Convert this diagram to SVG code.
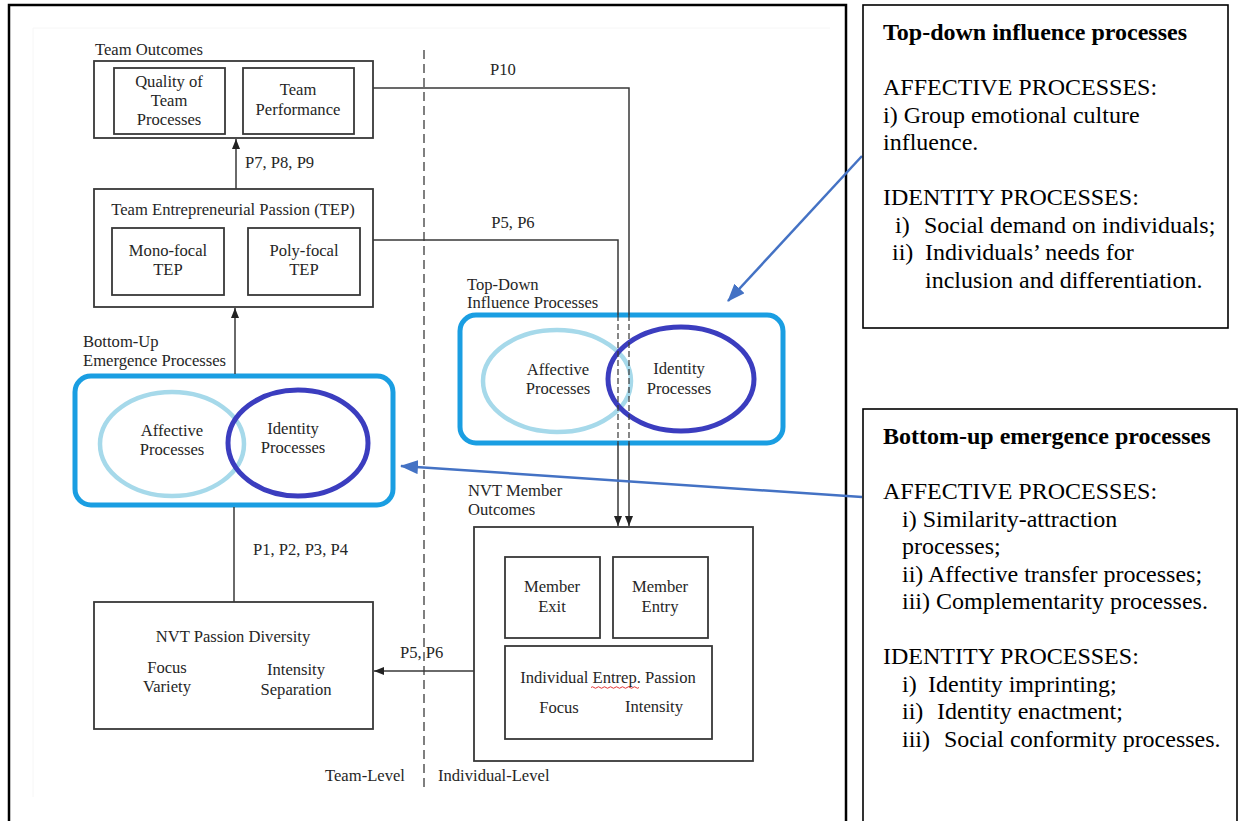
<svg xmlns="http://www.w3.org/2000/svg" width="1240" height="821" viewBox="0 0 1240 821">
<defs>
<style>
.t{font-family:"Liberation Serif","Times New Roman",serif;font-size:16.6px;fill:#262626}
.c{text-anchor:middle}
.r{font-family:"Liberation Serif","Times New Roman",serif;font-size:24px;fill:#000}
.b{font-weight:bold}
.box{fill:#fff;stroke:#383838;stroke-width:1.8}
.ln{fill:none;stroke:#383838;stroke-width:1.5}
.dl{fill:none;stroke:#383838;stroke-width:1.2;stroke-dasharray:6 3}
.grp{fill:none;stroke:#1a9ee2;stroke-width:5}
.aff{fill:none;stroke:#a6d9ea;stroke-width:4.5}
.idn{fill:none;stroke:#3b3dbf;stroke-width:5}
.blue{fill:none;stroke:#4472c4;stroke-width:2.5}
.frame{fill:none;stroke:#000;stroke-width:1.6}
</style>
<marker id="ah" markerUnits="userSpaceOnUse" markerWidth="10" markerHeight="8" refX="10" refY="4" orient="auto"><path d="M0,0 L10,4 L0,8 z" fill="#222"/></marker>
<marker id="bh" markerUnits="userSpaceOnUse" markerWidth="18" markerHeight="14" refX="17" refY="7" orient="auto"><path d="M0,0 L18,7 L0,14 z" fill="#4472c4"/></marker>
</defs>
<rect width="1240" height="821" fill="#fff"/>
<rect x="9" y="5" width="837" height="840" fill="none" stroke="#000" stroke-width="2.5"/>
<path d="M33,797 L33,28 L830,28" fill="none" stroke="#f6f6f6" stroke-width="1"/>
<line x1="424" y1="50" x2="424" y2="790" stroke="#555" stroke-width="1.5" stroke-dasharray="9 5"/>

<g id="team-outcomes">
<text class="t" x="95" y="55">Team Outcomes</text>
<rect class="box" x="94" y="61" width="279" height="77"/>
<rect class="box" x="114" y="68" width="111" height="66"/>
<text class="t c" x="169" y="87">Quality of</text>
<text class="t c" x="169" y="106">Team</text>
<text class="t c" x="169" y="125">Processes</text>
<rect class="box" x="243" y="68" width="111" height="66"/>
<text class="t c" x="298" y="95">Team</text>
<text class="t c" x="298" y="115">Performance</text>
</g>

<g id="tep">
<rect class="box" x="94" y="189" width="279" height="118"/>
<text class="t c" x="233" y="215">Team Entrepreneurial Passion (TEP)</text>
<rect class="box" x="112" y="228" width="112" height="67"/>
<text class="t c" x="168" y="256">Mono-focal</text>
<text class="t c" x="168" y="275">TEP</text>
<rect class="box" x="248" y="228" width="112" height="67"/>
<text class="t c" x="304" y="256">Poly-focal</text>
<text class="t c" x="304" y="275">TEP</text>
</g>

<g id="bottom-up">
<text class="t" x="83" y="347">Bottom-Up</text>
<text class="t" x="83" y="366">Emergence Processes</text>
<rect class="grp" x="75" y="376" width="318" height="129" rx="16"/>
<ellipse class="aff" cx="172" cy="444" rx="72" ry="52"/>
<ellipse class="idn" cx="298" cy="443" rx="70" ry="53"/>
<text class="t c" x="172" y="436">Affective</text>
<text class="t c" x="172" y="455">Processes</text>
<text class="t c" x="293" y="434">Identity</text>
<text class="t c" x="293" y="453">Processes</text>
</g>

<g id="passion-diversity">
<rect class="box" x="94" y="602" width="279" height="127"/>
<text class="t c" x="233" y="642">NVT Passion Diversity</text>
<text class="t c" x="167" y="673">Focus</text>
<text class="t c" x="167" y="692">Variety</text>
<text class="t c" x="296" y="675">Intensity</text>
<text class="t c" x="296" y="695">Separation</text>
</g>

<g id="top-down">
<text class="t" x="467" y="290">Top-Down</text>
<text class="t" x="467" y="308">Influence Processes</text>
<rect class="grp" x="460" y="315" width="323" height="128" rx="16"/>
<ellipse class="aff" cx="557" cy="381" rx="74" ry="51"/>
<ellipse class="idn" cx="681" cy="379" rx="73" ry="52"/>
<text class="t c" x="558" y="375">Affective</text>
<text class="t c" x="558" y="394">Processes</text>
<text class="t c" x="679" y="374">Identity</text>
<text class="t c" x="679" y="394">Processes</text>
</g>

<g id="member-outcomes">
<text class="t" x="468" y="496">NVT Member</text>
<text class="t" x="468" y="515">Outcomes</text>
<rect class="box" x="474" y="527" width="279" height="234"/>
<rect class="box" x="505" y="557" width="95" height="81"/>
<text class="t c" x="552" y="592">Member</text>
<text class="t c" x="552" y="612">Exit</text>
<rect class="box" x="613" y="557" width="95" height="81"/>
<text class="t c" x="660" y="592">Member</text>
<text class="t c" x="660" y="612">Entry</text>
<rect class="box" x="505" y="646" width="207" height="93"/>
<text class="t c" x="608" y="683">Individual Entrep. Passion</text>
<path d="M591,687.5 q1.5,-1.5 3,0 t3,0 t3,0 t3,0 t3,0 t3,0 t3,0 t3,0 t3,0 t3,0 t3,0 t3,0 t3,0 t3,0 t3,0 t3,0" fill="none" stroke="#e02020" stroke-width="0.9"/>
<text class="t c" x="559" y="713">Focus</text>
<text class="t c" x="654" y="712">Intensity</text>
</g>

<g id="levels">
<text class="t c" x="365" y="781">Team-Level</text>
<text class="t" x="438" y="781">Individual-Level</text>
</g>

<g id="connectors">
<line class="ln" x1="236" y1="189" x2="236" y2="139" marker-end="url(#ah)"/>
<text class="t" x="245" y="168">P7, P8, P9</text>
<line class="ln" x1="235" y1="374" x2="235" y2="308" marker-end="url(#ah)"/>
<line class="ln" x1="234" y1="507" x2="234" y2="602"/>
<text class="t" x="253" y="555">P1, P2, P3, P4</text>
<polyline class="ln" points="373,88 629,88 629,315"/>
<line class="dl" x1="629" y1="315" x2="629" y2="443"/>
<line class="ln" x1="629" y1="443" x2="629" y2="526" marker-end="url(#ah)"/>
<text class="t c" x="503" y="75">P10</text>
<polyline class="ln" points="373,240 618,240 618,315"/>
<line class="dl" x1="618" y1="315" x2="618" y2="443"/>
<line class="ln" x1="618" y1="443" x2="618" y2="526" marker-end="url(#ah)"/>
<text class="t c" x="513" y="228">P5, P6</text>
<line class="ln" x1="474" y1="671" x2="374" y2="671" marker-end="url(#ah)"/>
<text class="t" x="400" y="658">P5, P6</text>
<line class="blue" x1="862" y1="156" x2="728" y2="301" marker-end="url(#bh)"/>
<line class="blue" x1="862" y1="497" x2="401" y2="466" marker-end="url(#bh)"/>
</g>

<g id="top-down-note">
<rect class="frame" x="863" y="5" width="365" height="323"/>
<text class="r b" x="883" y="40">Top-down influence processes</text>
<text class="r" x="883" y="95">AFFECTIVE PROCESSES:</text>
<text class="r" x="883" y="122.5">i) Group emotional culture</text>
<text class="r" x="883" y="150">influence.</text>
<text class="r" x="883" y="205">IDENTITY PROCESSES:</text>
<text class="r" y="232.5"><tspan x="895">i)</tspan><tspan x="924">Social demand on individuals;</tspan></text>
<text class="r" y="260"><tspan x="892">ii)</tspan><tspan x="925">Individuals’ needs for</tspan></text>
<text class="r" x="925" y="287.5">inclusion and differentiation.</text>
</g>

<g id="bottom-up-note">
<rect class="frame" x="863" y="409" width="374" height="430"/>
<text class="r b" x="883" y="444">Bottom-up emergence processes</text>
<text class="r" x="883" y="499">AFFECTIVE PROCESSES:</text>
<text class="r" x="902" y="526.5">i) Similarity-attraction</text>
<text class="r" x="902" y="554">processes;</text>
<text class="r" x="902" y="581.5">ii) Affective transfer processes;</text>
<text class="r" x="902" y="609">iii) Complementarity processes.</text>
<text class="r" x="883" y="664">IDENTITY PROCESSES:</text>
<text class="r" y="691.5"><tspan x="902">i)</tspan><tspan x="928">Identity imprinting;</tspan></text>
<text class="r" y="719"><tspan x="902">ii)</tspan><tspan x="937">Identity enactment;</tspan></text>
<text class="r" y="746.5"><tspan x="902">iii)</tspan><tspan x="944">Social conformity processes.</tspan></text>
</g>
</svg>
